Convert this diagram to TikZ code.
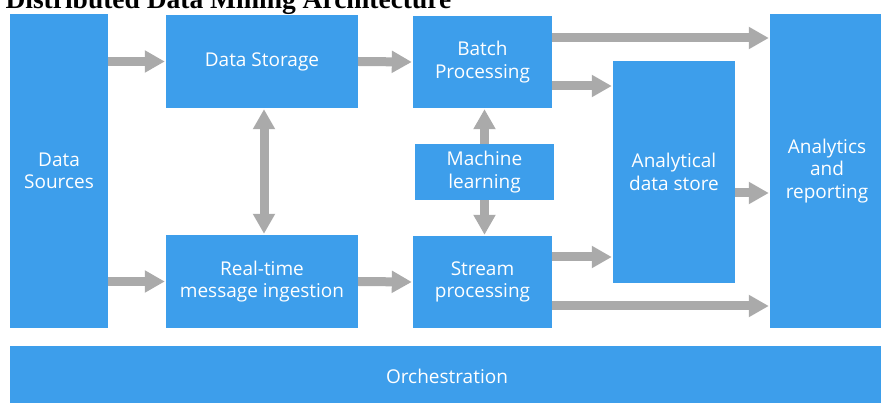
\documentclass[tikz,border=0pt]{standalone}
\usepackage{fontspec}
\setmainfont{Open Sans}
\newfontfamily\titlefont{Liberation Serif}
\usepackage{tikz}
\usetikzlibrary{arrows.meta}
\definecolor{boxblue}{RGB}{61,158,235}
\definecolor{arrowgray}{RGB}{170,170,170}
\tikzstyle{block}=[rectangle, fill=boxblue, text=white, align=center, inner sep=0pt, font=\fontsize{19}{22.5}\selectfont]
\tikzstyle{flow}=[line width=9pt, draw=arrowgray, -{Triangle[length=20pt,width=21pt]}, shorten >=1pt]
\tikzstyle{dflow}=[flow, {Triangle[length=20pt,width=21pt]}-{Triangle[length=20pt,width=21pt]}, shorten <=1pt]

\begin{document}
\begin{tikzpicture}[x=1pt,y=-1pt]
			\useasboundingbox (0,0) rectangle (881,403);
			\node[anchor=base west,font=\titlefont\bfseries\fontsize{27.5}{30}\selectfont] (title) at (2,9) {Distributed Data Mining Architecture};
			
			\node[block,minimum width=98pt,minimum height=314pt] (src) at (59,171) {Data\\Sources};
			\node[block,minimum width=192pt,minimum height=93pt] (store) at (262,61.5) {Data Storage};
			\node[block,minimum width=139pt,minimum height=92pt] (batch) at (482.5,62) {Batch\\Processing};
			\node[block,minimum width=139pt,minimum height=56pt] (ml) at (484.5,172) {Machine\\learning};
			\node[block,minimum width=192pt,minimum height=93pt] (ingest) at (262,281.5) {Real-time\\message ingestion};
			\node[block,minimum width=139pt,minimum height=92pt] (stream) at (482.5,282) {Stream\\processing};
			\node[block,minimum width=122pt,minimum height=222pt] (ads) at (674,172) {Analytical\\data store};
			\node[block,minimum width=114pt,minimum height=314pt] (rep) at (827,171) {Analytics\\and\\reporting};
			\node[block,minimum width=874pt,minimum height=60pt] (orch) at (447,376) {Orchestration};
			
			\draw[flow] (src.east |- store.west) -- (store.west);
			\draw[flow] (src.east |- ingest.west) -- (ingest.west);
			\draw[flow] (store.east) -- (batch.west);
			\draw[flow] (ingest.east) -- (stream.west);
			\draw[dflow] ([xshift=2pt]store.south) -- ([xshift=2pt]ingest.north);
			\draw[flow] (ml.north) -- (ml.north |- batch.south);
			\draw[flow] (ml.south) -- (ml.south |- stream.north);
			
			\draw[flow] ([yshift=24pt]batch.east) -- ([yshift=24pt]batch.east -| rep.west);
			\draw[flow] ([yshift=-24pt]batch.east) -- ([yshift=-24pt]batch.east -| ads.west);
			\draw[flow] ([yshift=25pt]stream.east) -- ([yshift=25pt]stream.east -| ads.west);
			\draw[flow] ([yshift=-24pt]stream.east) -- ([yshift=-24pt]stream.east -| rep.west);
			\draw[flow] ([yshift=-21pt]ads.east) -- ([yshift=-21pt]ads.east -| rep.west);
		\end{tikzpicture}
\end{document}
